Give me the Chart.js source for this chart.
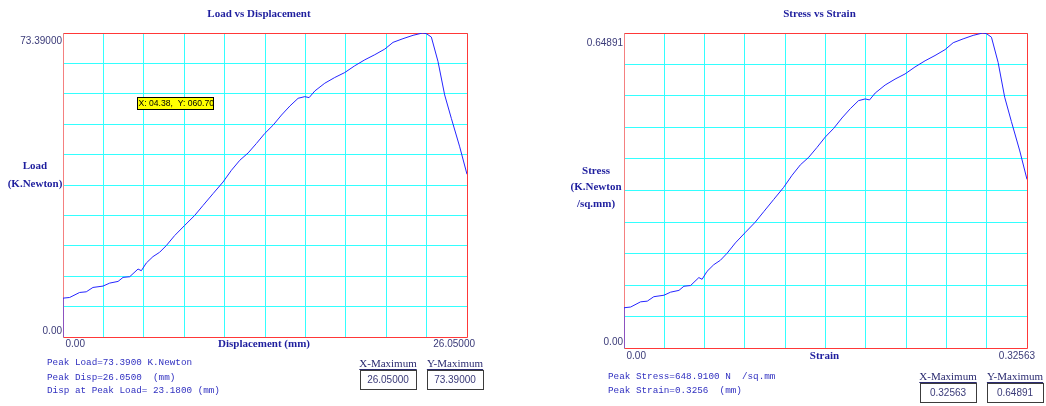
<!DOCTYPE html>
<html>
<head>
<meta charset="utf-8">
<script src="https://cdn.jsdelivr.net/npm/chart.js@4"></script>
<style>
  body { margin: 0; background: #fff; width: 1046px; height: 406px; overflow: hidden; position: relative; }
  canvas { position: absolute; top: 0; }
  #loadChart { left: 0; }
  #stressChart { left: 523px; }
</style>
</head>
<body>
<canvas id="loadChart" width="523" height="406"></canvas>
<canvas id="stressChart" width="523" height="406"></canvas>
<script>
// Load vs Displacement
const dispValues = [0, 0, 0.43, 1.07, 1.50, 1.93, 2.58, 3.01, 3.55, 3.87, 4.30, 4.84, 5.05, 5.37, 5.80, 6.23, 6.66, 7.20, 7.84, 8.49,
  9.03, 9.67, 10.32, 10.86, 11.40, 11.94, 12.47, 13.01, 13.55, 14.09, 14.63, 15.16, 15.59, 15.87, 16.24, 16.88, 17.52, 18.17,
  18.81, 19.46, 20.10, 20.75, 21.28, 21.92, 22.57, 23.18, 23.43, 23.75, 24.18, 24.61, 25.04, 25.58, 26.05];
const loadValues = [0, 9.38, 9.54, 10.75, 10.91, 11.96, 12.29, 13.01, 13.42, 14.39, 14.55, 16.41, 16.00, 17.86, 19.40, 20.45, 22.07, 24.49, 26.92, 29.34,
  31.76, 34.59, 37.42, 40.25, 42.67, 44.45, 46.72, 49.14, 51.16, 53.59, 55.77, 57.63, 58.03, 57.79, 59.41, 61.27, 62.64, 63.85,
  65.47, 66.92, 68.14, 69.51, 71.13, 72.02, 72.83, 73.39, 73.23, 72.42, 66.52, 58.44, 52.78, 45.91, 39.28];

// Stress vs Strain
const strainValues = [0, 0, 0.0054, 0.0134, 0.0188, 0.0241, 0.0323, 0.0376, 0.0444, 0.0484, 0.0538, 0.0605, 0.0631, 0.0671, 0.0725, 0.0779, 0.0833, 0.0900, 0.0980, 0.1061,
  0.1129, 0.1209, 0.1290, 0.1358, 0.1425, 0.1493, 0.1559, 0.1626, 0.1694, 0.1761, 0.1829, 0.1895, 0.1949, 0.1984, 0.2030, 0.2110, 0.2190, 0.2271,
  0.2351, 0.2433, 0.2513, 0.2594, 0.2660, 0.2740, 0.2821, 0.2898, 0.2929, 0.2969, 0.3023, 0.3076, 0.3130, 0.3198, 0.32563];
const stressValues = [0, 0.0829, 0.0844, 0.0951, 0.0965, 0.1057, 0.1087, 0.1150, 0.1187, 0.1272, 0.1287, 0.1451, 0.1415, 0.1579, 0.1715, 0.1808, 0.1951, 0.2165, 0.2380, 0.2594,
  0.2808, 0.3058, 0.3309, 0.3559, 0.3773, 0.3930, 0.4131, 0.4345, 0.4524, 0.4738, 0.4931, 0.5096, 0.5131, 0.5110, 0.5253, 0.5417, 0.5539, 0.5646,
  0.5789, 0.5917, 0.6025, 0.6146, 0.6289, 0.6368, 0.6440, 0.64891, 0.6475, 0.6403, 0.5882, 0.5167, 0.4667, 0.4059, 0.3473];

const dispTicks = ['0.00', '26.05000'];
const loadTicks = ['0.00', '73.39000'];
const strainTicks = ['0.00', '0.32563'];
const stressTicks = ['0.00', '0.64891'];

const loadInfo = ['Peak Load=73.3900 K.Newton', 'Peak Disp=26.0500  (mm)', 'Disp at Peak Load= 23.1800 (mm)'];
const stressInfo = ['Peak Stress=648.9100 N  /sq.mm', 'Peak Strain=0.3256  (mm)'];
const loadMaxima = ['26.05000', '73.39000'];
const stressMaxima = ['0.32563', '0.64891'];
const cursorText = 'X: 04.38,  Y: 060.70';

const TITLE_COLOR = '#1e1e9e';
const TICK_COLOR = '#3a3a78';
const INFO_COLOR = '#3030c0';
const GRID_COLOR = '#33ffff';

function toPoints(xs, ys) {
    return xs.map((x, i) => ({ x: x, y: ys[i] }));
}

// draws the frame, titles, end labels, info text and the maximum boxes
const panelPlugin = {
    id: 'panel',
    beforeDatasetsDraw(chart, args, opts) {
        const ctx = chart.ctx;
        const a = chart.chartArea;
        const l = Math.round(a.left) + 0.5, t = Math.round(a.top) + 0.5;
        const r = Math.round(a.right) + 0.5, b = Math.round(a.bottom) + 0.5;
        ctx.save();
        ctx.lineWidth = 1;
        ctx.strokeStyle = '#ff3838';
        ctx.beginPath();
        ctx.moveTo(l, t);
        ctx.lineTo(r, t);
        ctx.lineTo(r, b);
        ctx.lineTo(l, b);
        ctx.stroke();
        ctx.strokeStyle = '#f48080';
        ctx.beginPath();
        ctx.moveTo(l, t);
        ctx.lineTo(l, b);
        ctx.stroke();
        ctx.restore();
    },
    afterDraw(chart, args, opts) {
        const ctx = chart.ctx;
        const a = chart.chartArea;
        const xs = chart.scales.x;
        const ys = chart.scales.y;
        const cx = (a.left + a.right) / 2;
        ctx.save();
        ctx.textBaseline = 'middle';

        // title
        ctx.fillStyle = TITLE_COLOR;
        ctx.font = 'bold 11px "Liberation Serif"';
        ctx.textAlign = 'center';
        ctx.fillText(opts.title, cx - 6, 14);

        // axis titles
        ctx.fillText(opts.xTitle, cx - 1, a.bottom + opts.xLabelGap);
        opts.yTitle.forEach((t, i) => ctx.fillText(t, a.left - 28, opts.yTitleTop + i * opts.yTitleStep));

        // end labels of the axes
        ctx.font = '10px "Liberation Sans"';
        ctx.fillStyle = TICK_COLOR;
        ctx.textAlign = 'right';
        ctx.fillText(opts.yTicks[1], a.left - 1, ys.getPixelForValue(ys.max) + opts.yTopGap);
        ctx.fillText(opts.yTicks[0], a.left - 1, ys.getPixelForValue(0) - 6);
        ctx.textAlign = 'left';
        ctx.fillText(opts.xTicks[0], xs.getPixelForValue(0) + 2.5, a.bottom + opts.xLabelGap);
        ctx.textAlign = 'right';
        ctx.fillText(opts.xTicks[1], xs.getPixelForValue(xs.max) + 8, a.bottom + opts.xLabelGap);

        // info lines
        ctx.font = '9.3px "Liberation Mono"';
        ctx.fillStyle = INFO_COLOR;
        ctx.textAlign = 'left';
        opts.info.forEach((t, i) => ctx.fillText(t, opts.infoX, opts.infoY[i]));

        // X-Maximum / Y-Maximum boxes
        const boxes = [
            { label: 'X-Maximum', value: opts.maxima[0], left: a.right - 107 },
            { label: 'Y-Maximum', value: opts.maxima[1], left: a.right - 40 }
        ];
        boxes.forEach(b => {
            const w = 56, h = 19, top = opts.boxTop;
            ctx.strokeStyle = '#3c3c3c';
            ctx.lineWidth = 1;
            ctx.strokeRect(Math.round(b.left) + 0.5, top + 0.5, w, h);
            ctx.font = '11px "Liberation Serif"';
            ctx.fillStyle = '#2a2a70';
            ctx.textAlign = 'center';
            const lx = b.left + w / 2;
            ctx.fillText(b.label, lx, top - 6);
            const lw = ctx.measureText(b.label).width;
            ctx.fillRect(lx - lw / 2, top - 1, lw, 1);
            ctx.font = '10px "Liberation Sans"';
            ctx.fillStyle = TICK_COLOR;
            ctx.fillText(b.value, lx, top + h / 2 + 1);
        });

        // cursor read-out box
        if (opts.cursor) {
            const c = opts.cursor;
            ctx.fillStyle = '#ffff00';
            ctx.fillRect(c.x, c.y, c.w, c.h);
            ctx.strokeStyle = '#000';
            ctx.strokeRect(c.x + 0.5, c.y + 0.5, c.w - 1, c.h - 1);
            ctx.fillStyle = '#000';
            ctx.font = '8.6px "Liberation Sans"';
            ctx.textAlign = 'left';
            ctx.fillText(c.text, c.x + 1.5, c.y + c.h / 2 + 0.5);
        }
        ctx.restore();
    }
};

function makeChart(id, xs, ys, xMax, yMax, padding, panel) {
    return new Chart(document.getElementById(id), {
        type: 'line',
        data: {
            datasets: [{
                data: toPoints(xs, ys),
                borderColor: '#2525ff',
                borderWidth: 1,
                pointRadius: 0,
                tension: 0,
                fill: false
            }]
        },
        options: {
            responsive: false,
            animation: false,
            layout: { padding: padding },
            scales: {
                x: {
                    type: 'linear',
                    min: 0,
                    max: xMax,
                    ticks: { display: false, stepSize: xMax / 10 },
                    grid: { color: GRID_COLOR, lineWidth: 1, drawTicks: false },
                    border: { display: false }
                },
                y: {
                    type: 'linear',
                    min: 0,
                    max: yMax,
                    ticks: { display: false, stepSize: yMax / 10 },
                    grid: { color: GRID_COLOR, lineWidth: 1, drawTicks: false },
                    border: { display: false }
                }
            },
            plugins: {
                legend: { display: false },
                tooltip: { enabled: false },
                panel: panel
            }
        },
        plugins: [panelPlugin]
    });
}

document.addEventListener('DOMContentLoaded', function() {
    makeChart('loadChart', dispValues, loadValues, 26.05, 73.39,
        { left: 63, right: 56, top: 33, bottom: 69 },
        {
            title: 'Load vs Displacement',
            xTitle: 'Displacement (mm)',
            yTitle: ['Load', '(K.Newton)'],
            yTitleTop: 166, yTitleStep: 18,
            xTicks: dispTicks, yTicks: loadTicks,
            xLabelGap: 7.5, yTopGap: 8,
            info: loadInfo, infoX: 47, infoY: [363, 377.5, 391],
            maxima: loadMaxima, boxTop: 370,
            cursor: { x: 137, y: 97, w: 77, h: 13, text: cursorText }
        });

    makeChart('stressChart', strainValues, stressValues, 0.32563, 0.64891,
        { left: 101, right: 19, top: 33, bottom: 58 },
        {
            title: 'Stress vs Strain',
            xTitle: 'Strain',
            yTitle: ['Stress', '(K.Newton', '/sq.mm)'],
            yTitleTop: 171, yTitleStep: 16.5,
            xTicks: strainTicks, yTicks: stressTicks,
            xLabelGap: 8.5, yTopGap: 10,
            info: stressInfo, infoX: 85, infoY: [377, 391],
            maxima: stressMaxima, boxTop: 383,
            cursor: null
        });
});
</script>
</body>
</html>
